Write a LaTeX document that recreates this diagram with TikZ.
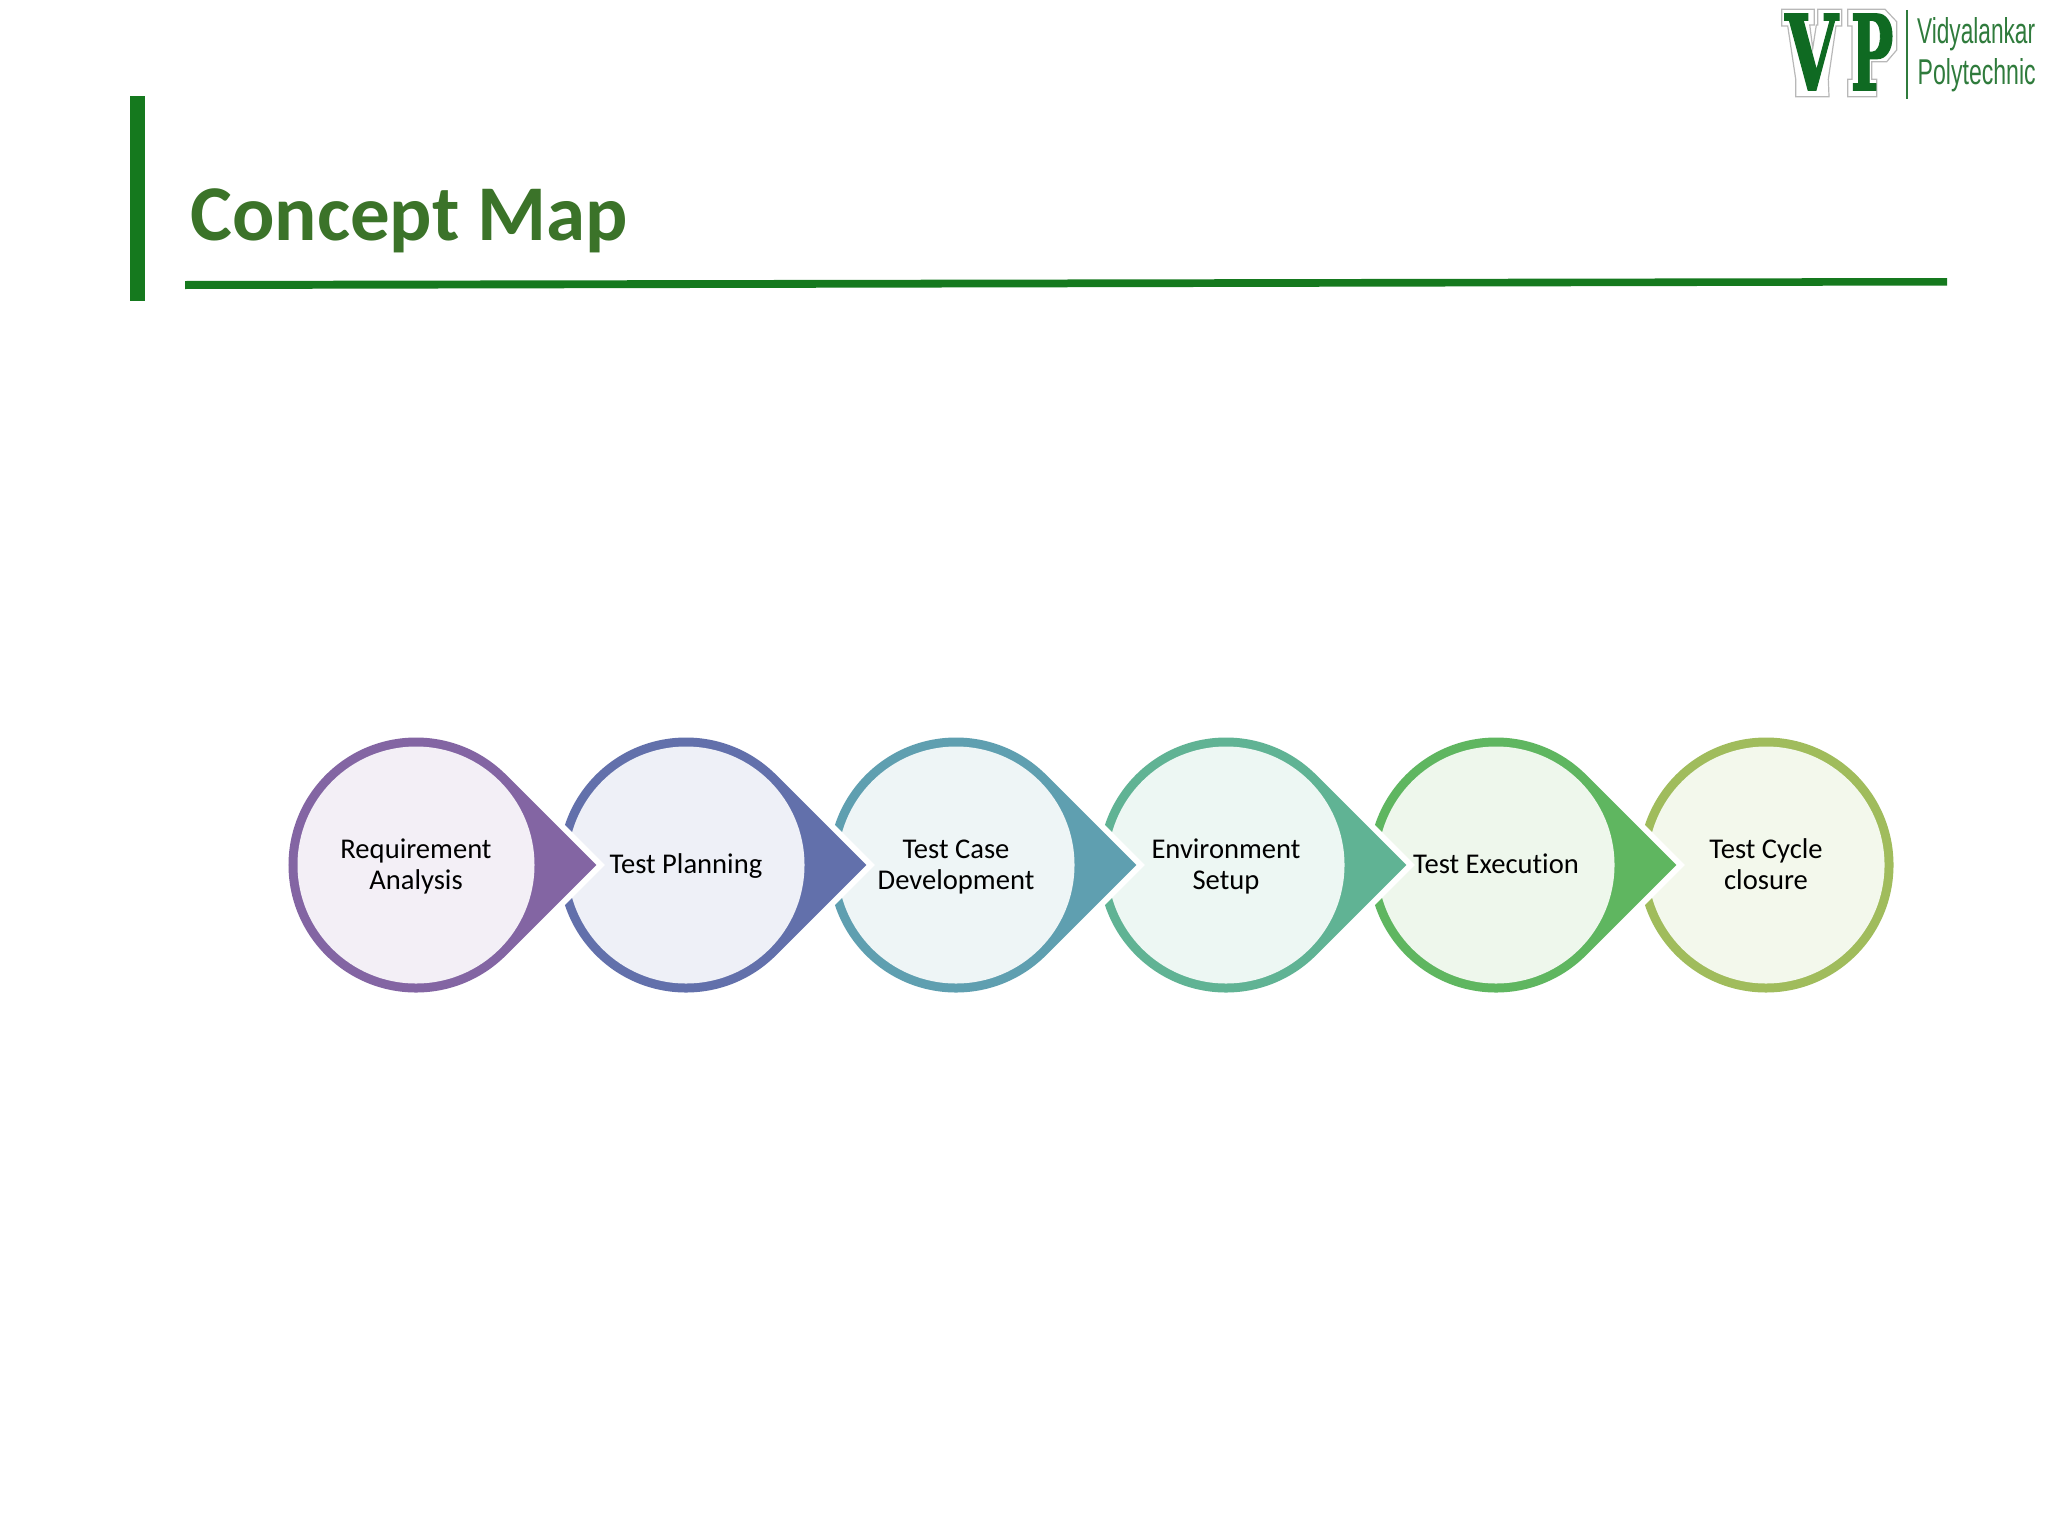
\documentclass[tikz,border=0pt]{standalone}
\usepackage{fontspec}
\setmainfont{Carlito}[RawFeature={-liga}]
\newfontfamily\serifb{DejaVu Serif Bold}[FakeBold=1.5]
\newfontfamily\logosans{Liberation Sans}
\newcommand{\lnst}{\rule[-3.4pt]{0pt}{15.5pt}}
\definecolor{barg}{HTML}{15791E}
\definecolor{titleg}{HTML}{3B7329}
\definecolor{logog}{HTML}{0F6A22}
\definecolor{logot}{HTML}{2F7B3C}
\definecolor{ca}{HTML}{8365A3}\definecolor{la}{HTML}{F3EFF6}
\definecolor{cb}{HTML}{6270AB}\definecolor{lb}{HTML}{EEF0F7}
\definecolor{cc}{HTML}{5F9FB0}\definecolor{lc}{HTML}{EEF5F6}
\definecolor{cd}{HTML}{60B394}\definecolor{ld}{HTML}{EDF7F3}
\definecolor{ce}{HTML}{5FB660}\definecolor{le}{HTML}{EEF7EC}
\definecolor{cf}{HTML}{A0BC5C}\definecolor{lf}{HTML}{F3F8EC}
\tikzset{
  innerdisc/.style={circle,inner sep=0pt,minimum size=118.5pt,align=center,font=\fontsize{14.3}{15.5}\selectfont,text=black},
  teardrop/.style={fill=#1,preaction={draw=white,line width=6pt,miter limit=10}},
  bar/.style={fill=barg,draw=none},
  logoletter/.style={inner sep=0pt,text=logog,font=\serifb},
  logotext/.style={inner sep=0pt,text=logot,font=\logosans},
  logoedge/.style={draw=black!28,fill=white,line width=0.6pt,line join=miter}
}
\begin{document}
\begin{tikzpicture}[x=0.5pt,y=-0.5pt]
\useasboundingbox (0,0) rectangle (2048,1536);
% header
\fill[bar] (130,96) rectangle (145,301);
\fill[bar] (185,281) -- (1947,278) -- (1947,285.5) -- (185,289) -- cycle;
\node[anchor=base west,inner sep=0pt,text=titleg,font=\fontsize{39.5}{40}\selectfont\bfseries] (title) at (190,240.5) {Concept Map};
% logo
\path[logoedge] (1781.7,9.3) -- (1814.3,9.3) -- (1814.3,25) -- (1809.7,25) -- (1812.7,48.3) -- (1816.3,25) -- (1817.7,25) -- (1817.7,9.3) -- (1841.7,9.3) -- (1841.7,26) -- (1836,26) -- (1828.3,79.3) -- (1829,96.7) -- (1795.7,96.7) -- (1795.7,79.3) -- (1787.7,26) -- (1781.7,26) -- cycle;
\path[logoedge] (1847.7,9.3) -- (1885,9.3) -- (1896.7,21.7) -- (1896.7,50) -- (1886.7,61.7) -- (1871.7,61.7) -- (1871.7,79.3) -- (1876.7,79.3) -- (1876.7,96.7) -- (1847.7,96.7) -- (1847.7,79.3) -- (1852,79.3) -- (1852,26) -- (1847.7,26) -- cycle;
\node[logoletter] (logov) at (1811.5,52) {\resizebox{26.5pt}{38pt}{V}};
\node[logoletter] (logop) at (1872,52) {\resizebox{21.5pt}{38pt}{P}};
\draw[logot,line width=0.8pt] (1907,10) -- (1907,99);
\node[logotext,anchor=base west] (logoa) at (1916.7,43.3) {\resizebox{59pt}{13pt}{Vidyalankar}};
\node[logotext,anchor=base west] (logob) at (1917.3,85) {\resizebox{59pt}{13pt}{Polytechnic}};
% process, last to first so that each point lies over the next circle
\fill[cf] (1766,865) circle (127.5);
\node[innerdisc,fill=lf] (s6) at (1766,865) {\lnst Test Cycle\\\lnst closure};
\foreach \x/\c/\l/\n/\t in {
  1496/ce/le/s5/{\lnst Test Execution},
  1226/cd/ld/s4/{\lnst Environment\\\lnst Setup},
  956/cc/lc/s3/{\lnst Test Case\\\lnst Development},
  686/cb/lb/s2/{\lnst Test Planning},
  416/ca/la/s1/{\lnst Requirement\\\lnst Analysis}}{
  \path[teardrop=\c] (\x,865) ++(180.3,0) -- ++(-90.15,-90.15)
     arc[start angle=-45,delta angle=-270,radius=127.5] -- cycle;
  \node[innerdisc,fill=\l] (\n) at (\x,865) {\t};
}
\end{tikzpicture}
\end{document}
